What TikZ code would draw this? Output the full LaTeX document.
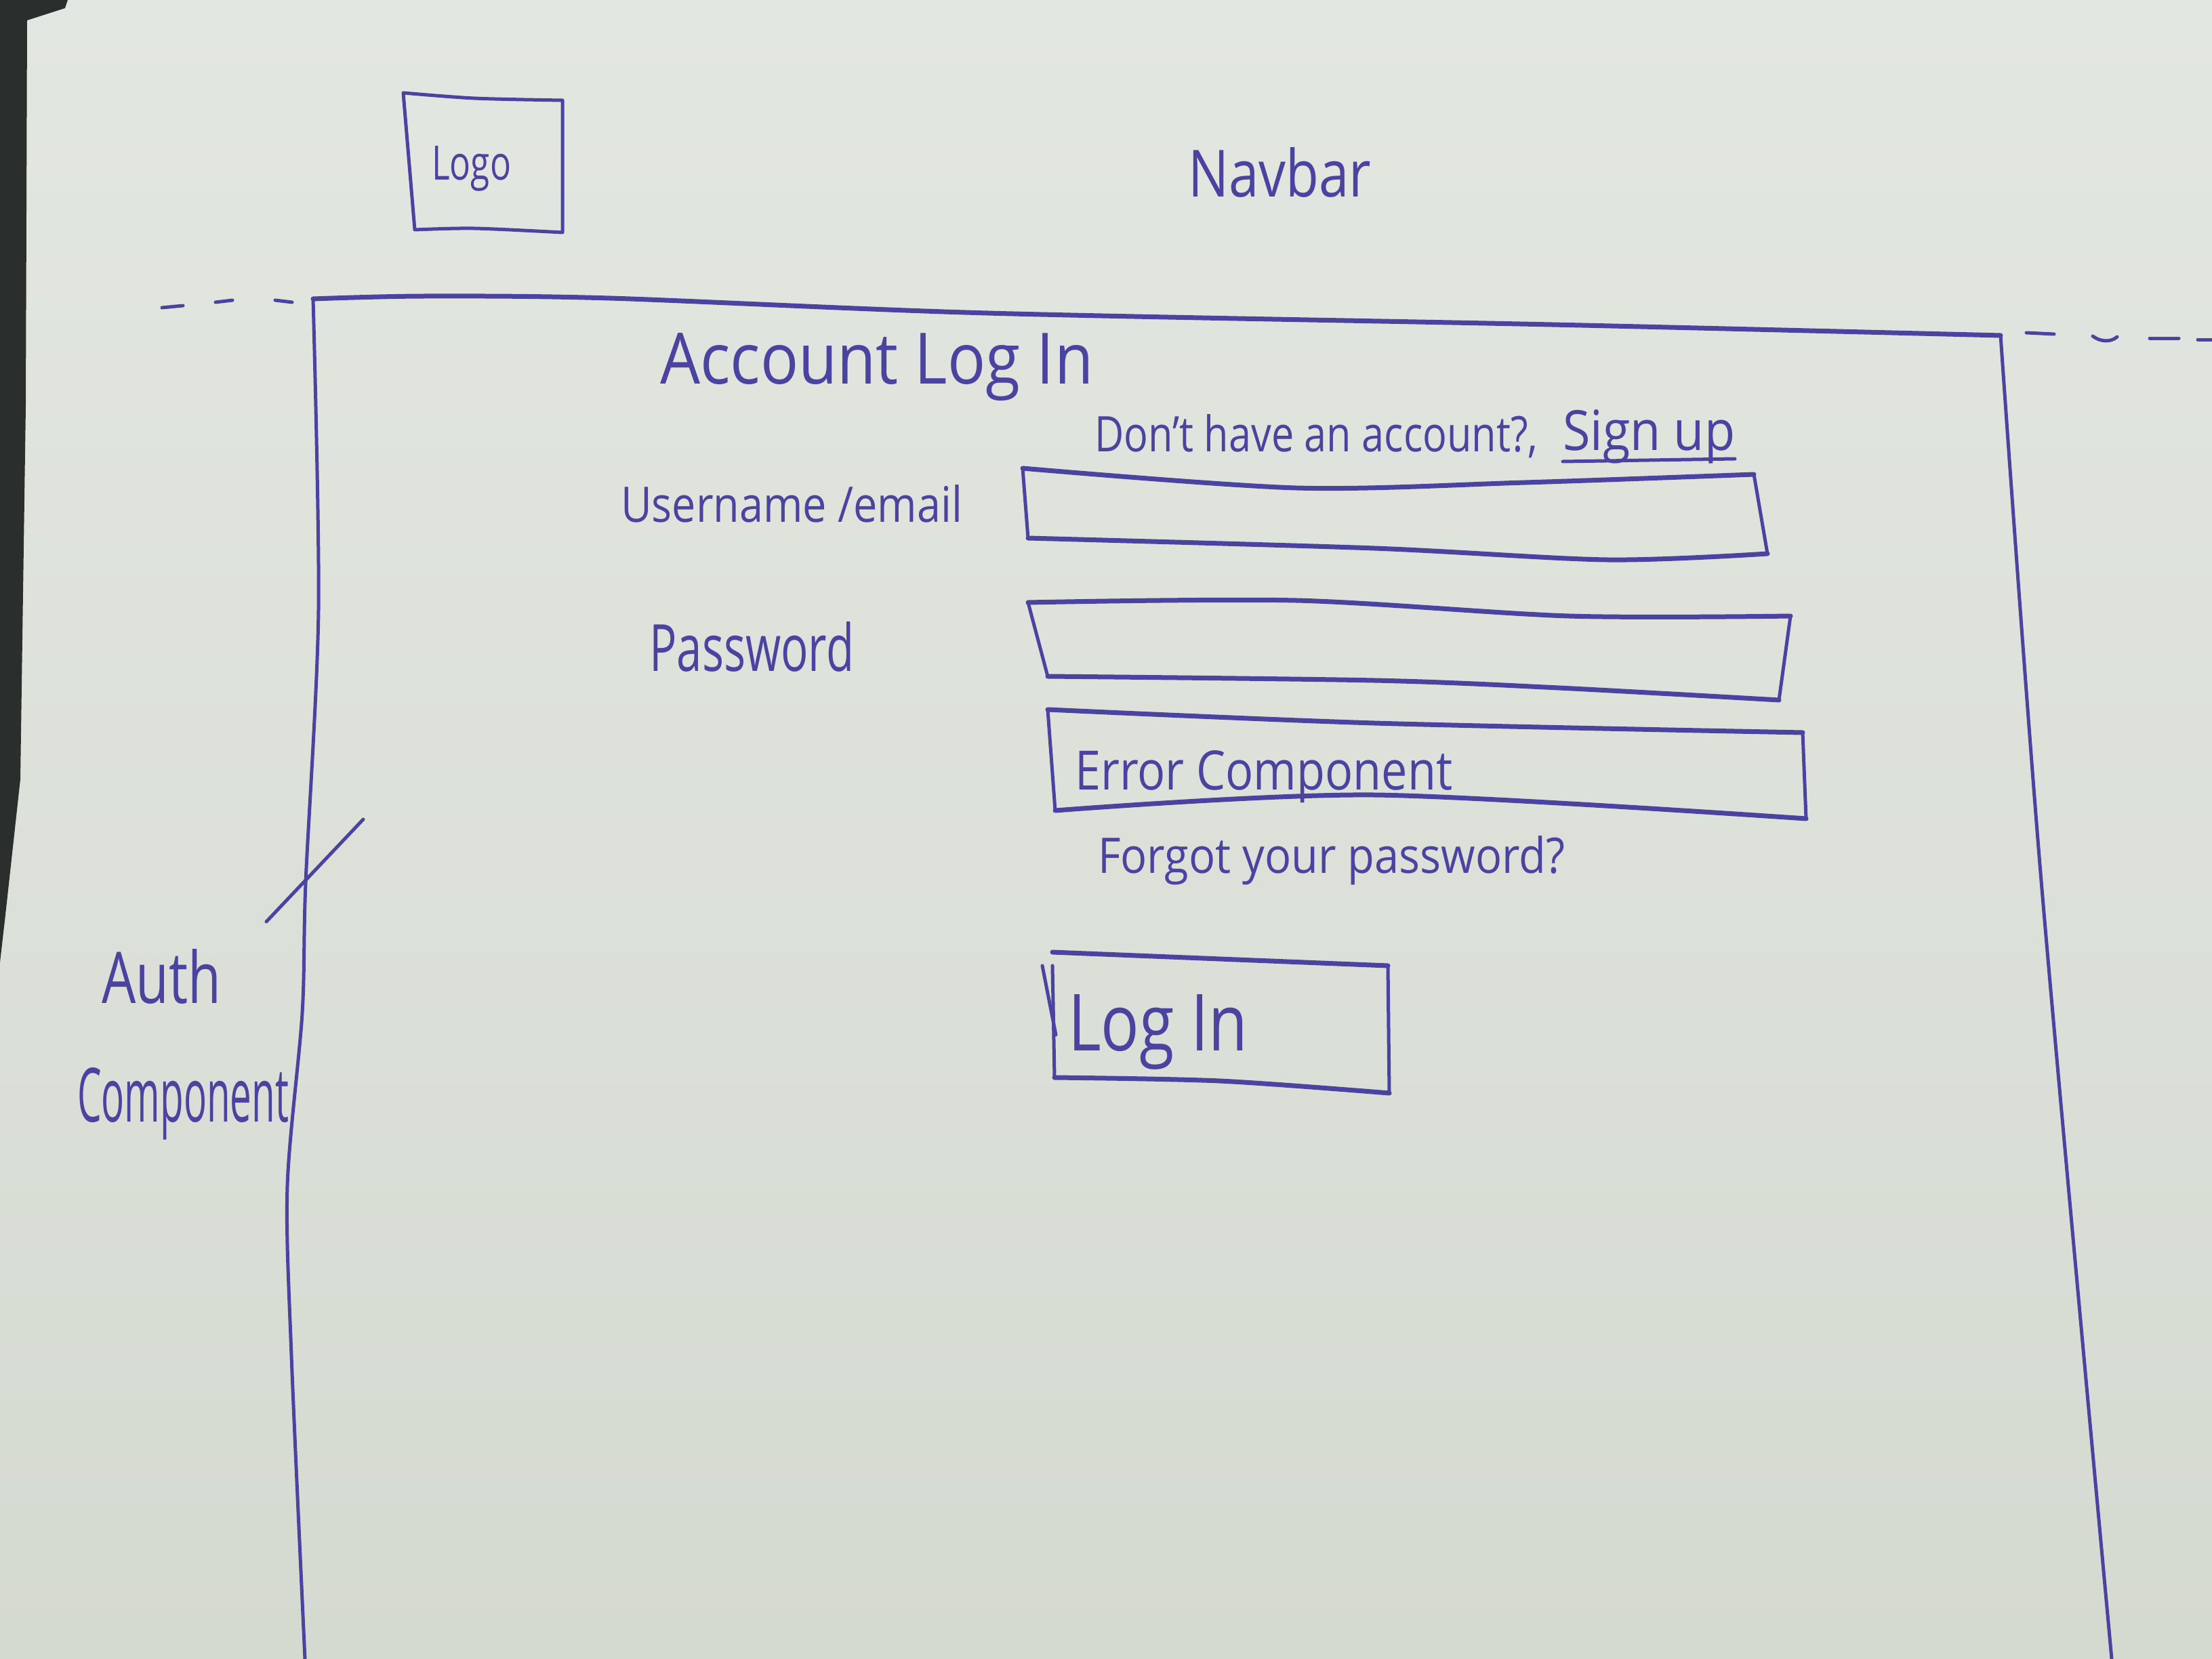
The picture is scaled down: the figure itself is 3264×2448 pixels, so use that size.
\documentclass[tikz,border=0pt]{standalone}
\usepackage{fontspec}
\setmainfont{Open Sans}
\definecolor{ink}{HTML}{4A43A0}
\definecolor{papertop}{HTML}{E3E7E1}
\definecolor{paperbot}{HTML}{D5DAD1}
\definecolor{desk}{HTML}{2A2E2C}
% handwritten label: width, height, text
\newcommand\hw[3]{\resizebox{#1pt}{#2pt}{\fontsize{80}{96}\selectfont #3}}
\begin{document}
\begin{tikzpicture}[x=1pt,y=-1pt,
  pen/.style={draw=ink, line width=5pt, line cap=round, line join=round},
  heavy/.style={pen, line width=7pt},
  hand/.style={text=ink, inner sep=0pt, anchor=base west}]
% sheet of paper and desk edge
\fill[top color=papertop, bottom color=paperbot] (0,0) rectangle (3264,2448);
\useasboundingbox (0,0) rectangle (3264,2448);
\fill[desk] (0,0) -- (100,0) -- (96,12) -- (40,30) -- (38,600) -- (30,1150) -- (8,1350) -- (0,1420) -- cycle;

% navbar
\draw[pen] plot[smooth, tension=0.5] coordinates {(595,137) (700,145) (830,148)}
  -- (830,343) -- plot[smooth, tension=0.5] coordinates {(830,343) (700,337) (612,339)} -- (595,137);
\node[hand] (logo) at (637,266) {\hw{117}{50}{Logo}};
\node[hand] (navbar) at (1753,291) {\hw{270}{73}{Navbar}};

% navbar separator (dashed continuation)
\draw[pen] (239,454) -- (270,451);
\draw[pen] (318,446) -- (343,443);
\draw[pen] (406,443) -- (431,446);
\draw[pen] (2990,491) -- (3031,493);
\draw[pen] (3088,496) .. controls (3100,505) and (3115,505) .. (3124,497);
\draw[pen] (3172,499) -- (3215,499);
\draw[pen] (3243,501) -- (3264,501);

% auth component frame
\draw[heavy] plot[smooth, tension=0.5] coordinates {(462,441) (625,437) (900,440) (1457,462) (2290,479) (2952,495)};
\draw[pen] plot[smooth, tension=0.5] coordinates {(2952,495) (3012,1300) (3116,2448)};
\draw[pen] plot[smooth, tension=0.5] coordinates {(462,441) (470,900) (451,1303) (446,1495) (424,1750) (430,2000) (450,2448)};

% side annotation
\coordinate (slashA) at (393,1360);
\coordinate (slashB) at (536,1209);
\draw[pen] (slashA) -- (slashB);
\node[hand] (auth) at (150,1480) {\hw{176}{80}{Auth}};
\node[hand] (comp) at (114,1655) {\hw{312}{80}{Component}};

% heading
\node[hand] (title) at (974,566) {\hw{639}{75}{Account Log In}};
\node[hand] (noacct) at (1615,666) {\hw{654}{55}{Don't have an account?,}};
\node[hand] (signup) at (2306,664) {\hw{254}{60}{Sign up}};
\draw[pen] (2306,681) -- (2560,677);

% username field
\node[hand] (userlbl) at (916,770) {\hw{504}{55}{Username /email}};
\draw[heavy] plot[smooth, tension=0.5] coordinates {(1509,691) (1913,720) (2250,712) (2588,700)};
\draw[pen] (2588,700) -- (2608,817);
\draw[heavy] plot[smooth, tension=0.5] coordinates {(2608,817) (2372,826) (2028,809) (1517,794)};
\draw[pen] (1517,794) -- (1509,691);

% password field
\node[hand] (passlbl) at (958,990) {\hw{302}{73}{Password}};
\draw[heavy] plot[smooth, tension=0.5] coordinates {(1517,889) (1913,886) (2315,909) (2642,909)};
\draw[pen] (2642,909) -- (2625,1033);
\draw[heavy] plot[smooth, tension=0.5] coordinates {(2625,1033) (2300,1015) (2028,1004) (1546,998)};
\draw[pen] (1546,998) -- (1517,889);

% error component
\draw[heavy] plot[smooth, tension=0.5] coordinates {(1546,1047) (2028,1067) (2660,1081)};
\draw[pen] (2660,1081) -- (2665,1208);
\draw[heavy] plot[smooth, tension=0.5] coordinates {(2665,1208) (2028,1173) (1557,1196)};
\draw[pen] (1557,1196) -- (1546,1047);
\node[hand] (errlbl) at (1586,1165) {\hw{557}{58}{Error Component}};

% forgot password link
\node[hand] (forgot) at (1620,1288) {\hw{689}{55}{Forgot your password?}};

% log in button
\draw[heavy] plot[smooth, tension=0.5] coordinates {(1553,1405) (1800,1415) (2048,1425)};
\draw[pen] (2048,1425) -- (2050,1613);
\draw[heavy] plot[smooth, tension=0.5] coordinates {(2050,1613) (1800,1595) (1556,1590)};
\draw[pen] (1556,1590) -- (1553,1425);
\draw[pen] (1538,1425) -- (1558,1527);
\node[hand] (loginbtn) at (1576,1550) {\hw{265}{83}{Log In}};
\end{tikzpicture}
\end{document}
